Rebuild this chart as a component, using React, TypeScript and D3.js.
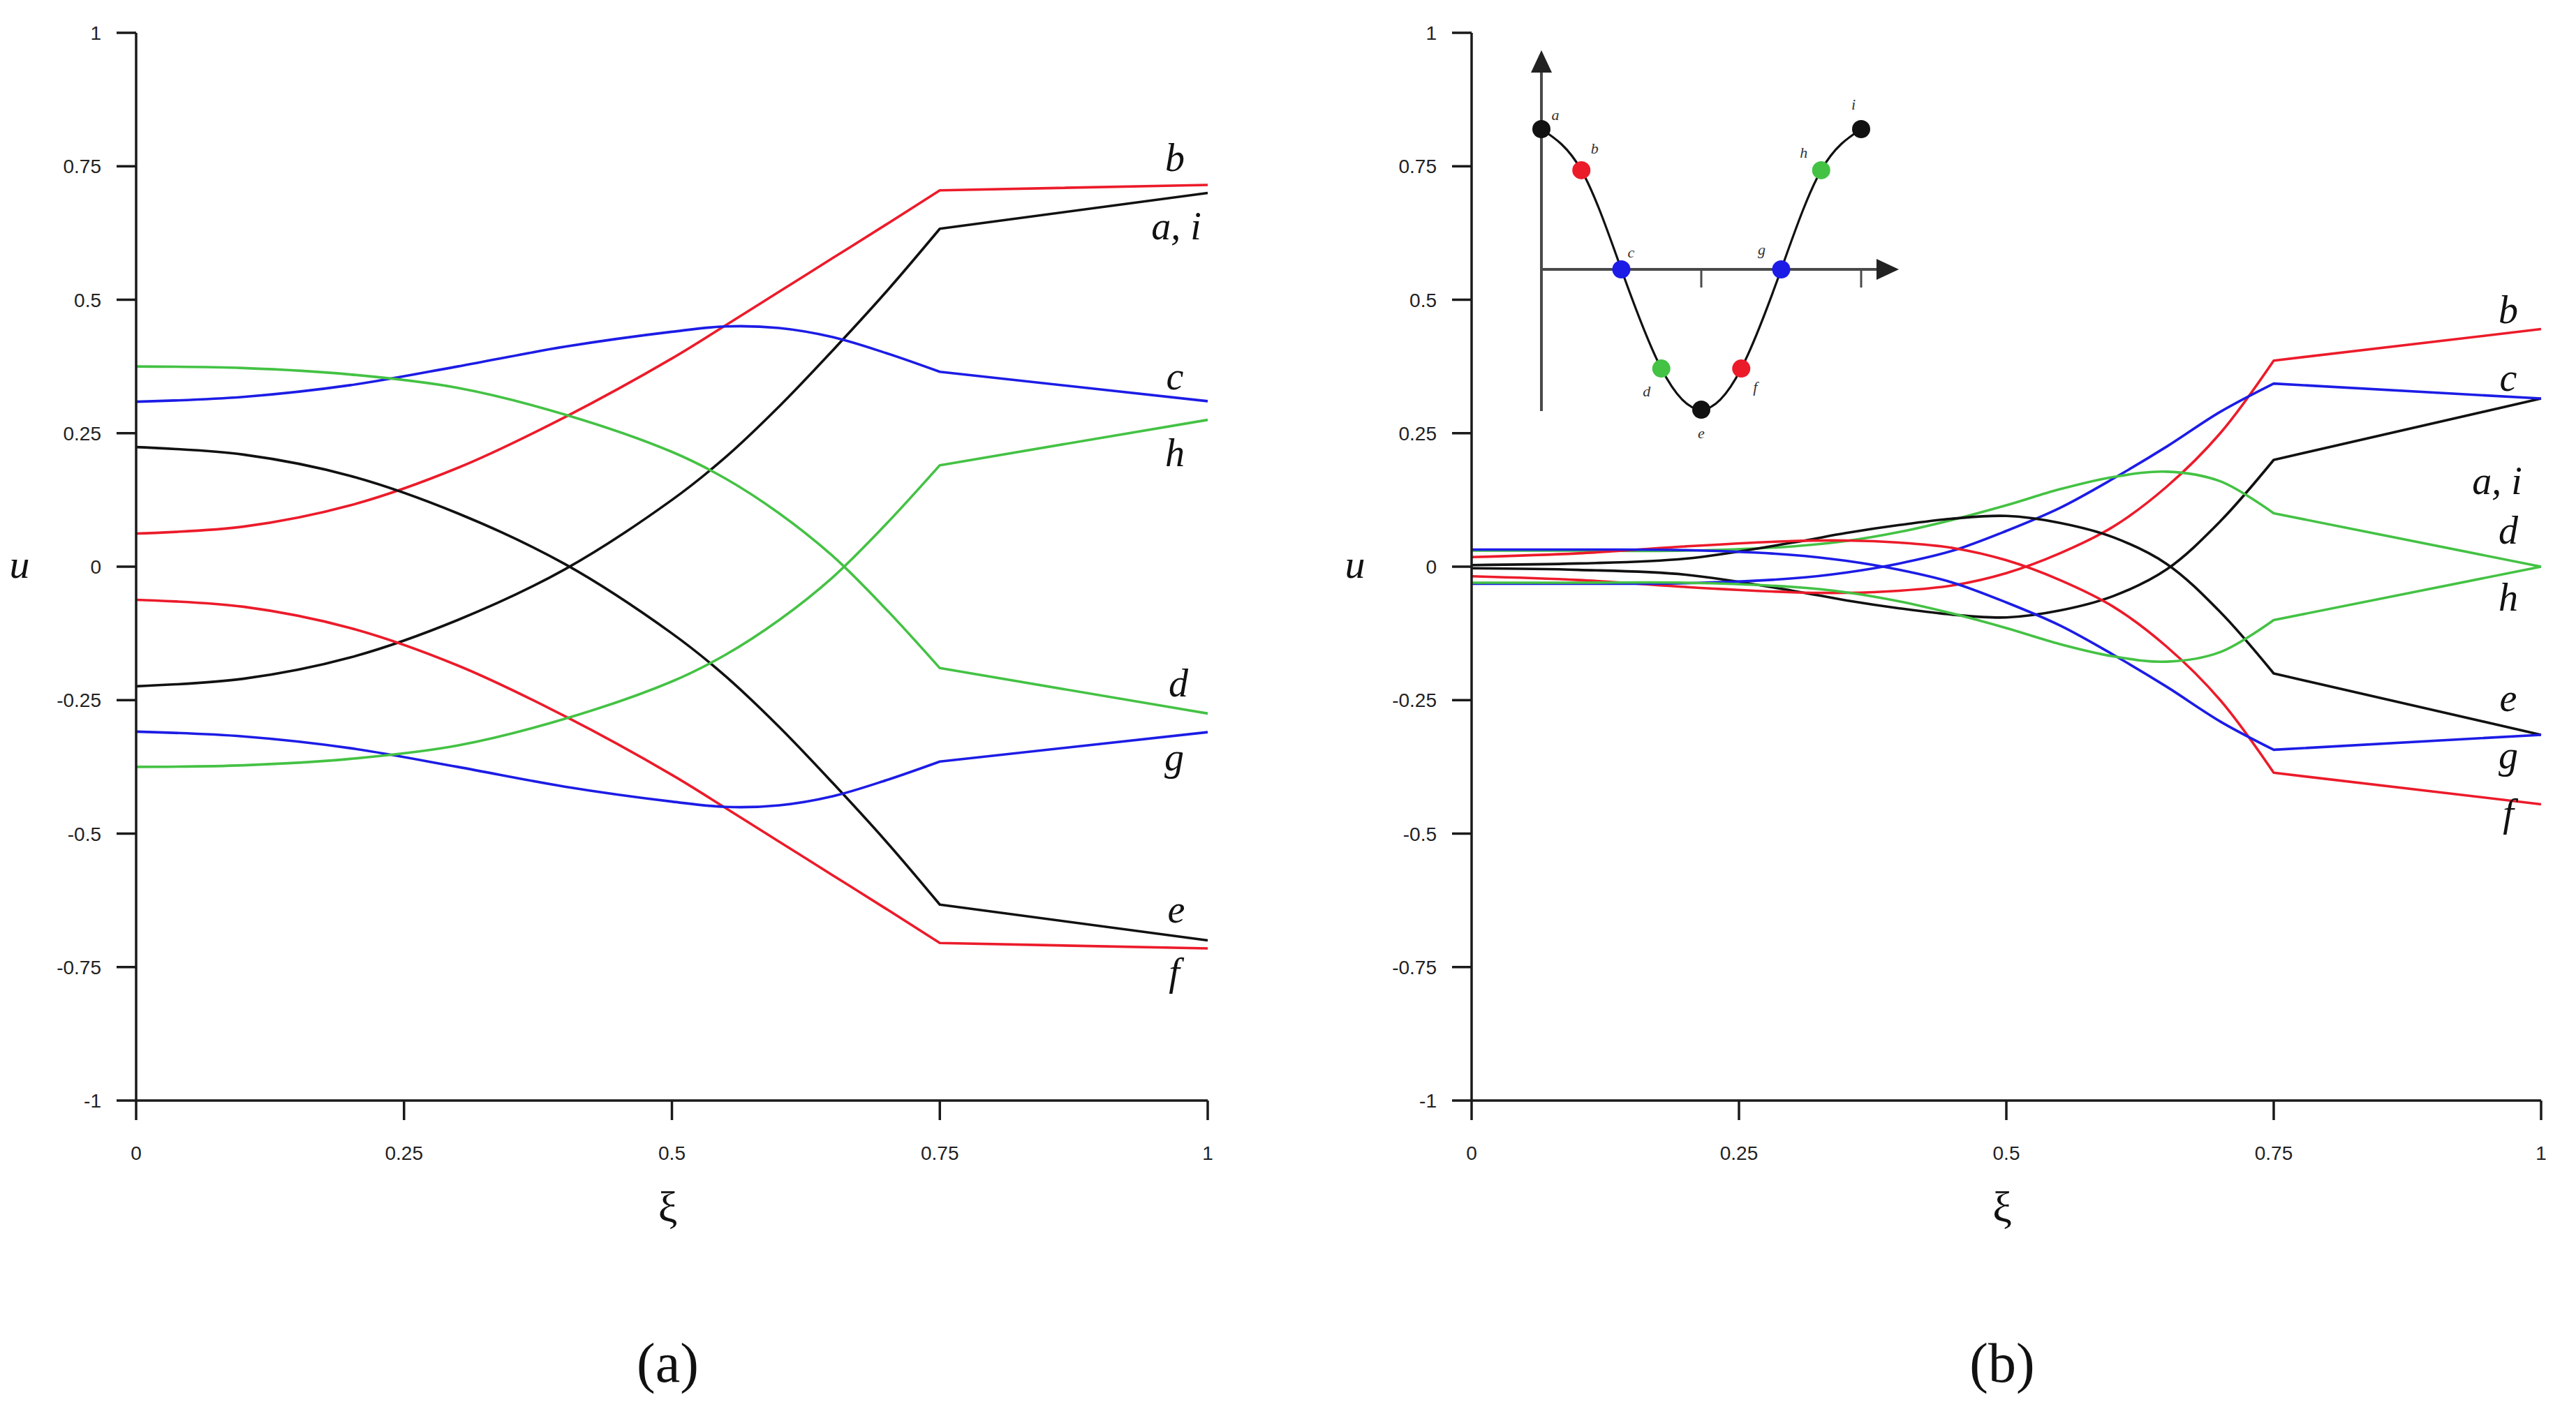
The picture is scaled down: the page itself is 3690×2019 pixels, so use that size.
import React from "react";
import * as d3 from "d3";

// ---- data: panel (a) ----
const xiA = [0, 0.1, 0.2, 0.3, 0.4, 0.5, 0.55, 0.6, 0.65, 0.7, 0.75, 1];
const aA = [-0.224, -0.21, -0.17, -0.1, -0.005, 0.125, 0.205, 0.3, 0.405, 0.515, 0.633, 0.7];
const bA = [0.062, 0.075, 0.115, 0.185, 0.28, 0.39, 0.452, 0.515, 0.578, 0.641, 0.705, 0.715];
const cA = [0.309, 0.318, 0.34, 0.375, 0.412, 0.44, 0.45, 0.447, 0.43, 0.4, 0.365, 0.31];
const dA = [0.375, 0.372, 0.36, 0.335, 0.285, 0.215, 0.165, 0.1, 0.02, -0.08, -0.19, -0.275];
const eA = [0.224, 0.21, 0.17, 0.1, 0.005, -0.125, -0.205, -0.3, -0.405, -0.515, -0.633, -0.7];
const fA = [-0.062, -0.075, -0.115, -0.185, -0.28, -0.39, -0.452, -0.515, -0.578, -0.641, -0.705, -0.715];
const gA = [-0.309, -0.318, -0.34, -0.375, -0.412, -0.44, -0.45, -0.447, -0.43, -0.4, -0.365, -0.31];
const hA = [-0.375, -0.372, -0.36, -0.335, -0.285, -0.215, -0.165, -0.1, -0.02, 0.08, 0.19, 0.275];

// ---- data: panel (b) ----
const xiB = [0, 0.1, 0.2, 0.3, 0.35, 0.4, 0.45, 0.5, 0.55, 0.6, 0.65, 0.7, 0.75, 1];
const aB = [-0.003, -0.006, -0.015, -0.045, -0.063, -0.078, -0.09, -0.095, -0.082, -0.055, -0.005, 0.085, 0.2, 0.315];
const bB = [-0.018, -0.025, -0.038, -0.048, -0.049, -0.045, -0.035, -0.012, 0.025, 0.075, 0.15, 0.25, 0.386, 0.445];
const cB = [-0.032, -0.032, -0.031, -0.022, -0.011, 0.006, 0.03, 0.067, 0.11, 0.165, 0.225, 0.29, 0.343, 0.315];
const dB = [0.03, 0.03, 0.03, 0.038, 0.048, 0.065, 0.088, 0.115, 0.145, 0.168, 0.178, 0.16, 0.1, 0];
const eB = [0.003, 0.006, 0.015, 0.045, 0.063, 0.078, 0.09, 0.095, 0.082, 0.055, 0.005, -0.085, -0.2, -0.315];
const fB = [0.018, 0.025, 0.038, 0.048, 0.049, 0.045, 0.035, 0.012, -0.025, -0.075, -0.15, -0.25, -0.386, -0.445];
const gB = [0.032, 0.032, 0.031, 0.022, 0.011, -0.006, -0.03, -0.067, -0.11, -0.165, -0.225, -0.29, -0.343, -0.315];
const hB = [-0.03, -0.03, -0.03, -0.038, -0.048, -0.065, -0.088, -0.115, -0.145, -0.168, -0.178, -0.16, -0.1, 0];

// ---- inset: initial profile at points a..i ----
const insetS = [0, 0.125, 0.25, 0.375, 0.5, 0.625, 0.75, 0.875, 1];
const insetU = [1, 0.707, 0, -0.707, -1, -0.707, 0, 0.707, 1];
const insetNames = ["a", "b", "c", "d", "e", "f", "g", "h", "i"];

const yTickVals = [-1, -0.75, -0.5, -0.25, 0, 0.25, 0.5, 0.75, 1];
const yTickText = ["-1", "-0.75", "-0.5", "-0.25", "0", "0.25", "0.5", "0.75", "1"];
const xTickVals = [0, 0.25, 0.5, 0.75, 1];
const xTickText = ["0", "0.25", "0.5", "0.75", "1"];

const RED = "#ec1b2a";
const BLUE = "#1c1ce6";
const GREEN = "#44c244";
const BLACK = "#111111";
const PT_COLORS = [BLACK, RED, BLUE, GREEN, BLACK, RED, BLUE, GREEN, BLACK];

// label placement: dx from x=1, dy from series end (px)
const seriesA = [
  { v: aA, c: BLACK, label: "a, i", dx: -45, dy: 66 },
  { v: bA, c: RED, label: "b", dx: -47, dy: -20 },
  { v: cA, c: BLUE, label: "c", dx: -47, dy: -17 },
  { v: dA, c: GREEN, label: "d", dx: -42, dy: -24 },
  { v: eA, c: BLACK, label: "e", dx: -45, dy: -26 },
  { v: fA, c: RED, label: "f", dx: -48, dy: 53 },
  { v: gA, c: BLUE, label: "g", dx: -48, dy: 55 },
  { v: hA, c: GREEN, label: "h", dx: -47, dy: 66 },
];
const seriesB = [
  { v: aB, c: BLACK, label: "a, i", dx: -63, dy: 137 },
  { v: bB, c: RED, label: "b", dx: -47, dy: -9 },
  { v: cB, c: BLUE, label: "c", dx: -47, dy: -11 },
  { v: dB, c: GREEN, label: "d", dx: -47, dy: -33 },
  { v: eB, c: BLACK, label: "e", dx: -47, dy: -34 },
  { v: fB, c: RED, label: "f", dx: -47, dy: 32 },
  { v: gB, c: BLUE, label: "g", dx: -47, dy: 48 },
  { v: hB, c: GREEN, label: "h", dx: -47, dy: 63 },
];

const SERIF = "'Liberation Serif', 'Times New Roman', serif";
const SANS = "'Liberation Sans', Arial, sans-serif";

function Panel({ x0, x1, xi, series, caption }) {
  const x = d3.scaleLinear().domain([0, 1]).range([x0, x1]);
  const y = d3.scaleLinear().domain([-1, 1]).range([1577, 47]);
  const curve = d3.line().x((d) => x(d[0])).y((d) => y(d[1])).curve(d3.curveCatmullRom.alpha(0.5));
  const n = xi.length;
  const tick = 28;
  return (
    <g>
      {series.map((s, i) => {
        const pts = xi.map((t, k) => [t, s.v[k]]);
        // smooth up to xi = 0.75, straight segment to xi = 1
        const d = curve(pts.slice(0, n - 1)) + `L${x(xi[n - 1])},${y(s.v[n - 1])}`;
        return <path key={i} d={d} fill="none" stroke={s.c} strokeWidth={3.6} strokeLinejoin="round" />;
      })}
      {series.map((s, i) => (
        <text key={"l" + i} x={x(1) + s.dx} y={y(s.v[n - 1]) + s.dy} textAnchor="middle"
          fontFamily={SERIF} fontStyle="italic" fontSize={56} fill="#111">{s.label}</text>
      ))}
      <line x1={x0} x2={x0} y1={y(1)} y2={y(-1)} stroke="#1a1a1a" strokeWidth={3.5} />
      <line x1={x0} x2={x1} y1={y(-1)} y2={y(-1)} stroke="#1a1a1a" strokeWidth={3.5} />
      {yTickVals.map((v, i) => (
        <g key={"y" + i}>
          <line x1={x0 - tick} x2={x0} y1={y(v)} y2={y(v)} stroke="#1a1a1a" strokeWidth={3.5} />
          <text x={x0 - tick - 22} y={y(v) + 10} textAnchor="end" fontFamily={SANS} fontSize={28} fill="#222">{yTickText[i]}</text>
        </g>
      ))}
      {xTickVals.map((v, i) => (
        <g key={"x" + i}>
          <line x1={x(v)} x2={x(v)} y1={y(-1)} y2={y(-1) + tick} stroke="#1a1a1a" strokeWidth={3.5} />
          <text x={x(v)} y={y(-1) + 85} textAnchor="middle" fontFamily={SANS} fontSize={28} fill="#222">{xTickText[i]}</text>
        </g>
      ))}
      <text x={x0 - 167} y={y(0) + 16} textAnchor="middle" fontFamily={SERIF} fontStyle="italic" fontSize={58} fill="#111">u</text>
      <text x={x(0.5) - 6} y={1750} textAnchor="middle" fontFamily={SERIF} fontSize={62} fill="#111">ξ</text>
      <text x={x(0.5) - 6} y={1980} textAnchor="middle" fontFamily={SERIF} fontSize={80} fill="#111">{caption}</text>
    </g>
  );
}

function Inset() {
  const sx = d3.scaleLinear().domain([0, 1]).range([2208, 2666]);
  const sy = d3.scaleLinear().domain([-1, 1]).range([587, 185]);
  const pts = insetS.map((s, k) => [s, insetU[k]]);
  const line = d3.line().x((d) => sx(d[0])).y((d) => sy(d[1])).curve(d3.curveNatural);
  const offs = [[20, -21], [19, -31], [14, -25], [-21, 32], [0, 33], [20, 26], [-28, -29], [-25, -25], [-11, -36]];
  const axisCol = "#4a4a4a";
  const ax0 = sx(0);
  const ay0 = sy(0);
  return (
    <g>
      <line x1={ax0} x2={ax0} y1={589} y2={100} stroke={axisCol} strokeWidth={4} />
      <path d={`M${ax0 - 15},${104} L${ax0},${72} L${ax0 + 15},${104} Z`} fill="#222" />
      <line x1={ax0} x2={2692} y1={ay0} y2={ay0} stroke={axisCol} strokeWidth={4} />
      <path d={`M${2688},${ay0 - 15} L${2720},${ay0} L${2688},${ay0 + 15} Z`} fill="#222" />
      {[0.5, 1].map((t) => (
        <line key={t} x1={sx(t)} x2={sx(t)} y1={ay0} y2={ay0 + 26} stroke={axisCol} strokeWidth={3} />
      ))}
      <path d={line(pts)} fill="none" stroke="#111" strokeWidth={3.2} />
      {pts.map((p, k) => (
        <circle key={k} cx={sx(p[0])} cy={sy(p[1])} r={13} fill={PT_COLORS[k]} />
      ))}
      {pts.map((p, k) => (
        <text key={"t" + k} x={sx(p[0]) + offs[k][0]} y={sy(p[1]) + offs[k][1]} textAnchor="middle"
          dominantBaseline="central" fontFamily={SERIF} fontStyle="italic" fontSize={22} fill="#333">{insetNames[k]}</text>
      ))}
    </g>
  );
}

export default function App() {
  return (
    <svg width={3690} height={2019} style={{ position: "absolute", left: 0, top: 0, background: "#fff" }}>
      <rect width={3690} height={2019} fill="#fff" />
      <Panel x0={195} x1={1730} xi={xiA} series={seriesA} caption="(a)" />
      <Panel x0={2108} x1={3640} xi={xiB} series={seriesB} caption="(b)" />
      <Inset />
    </svg>
  );
}
